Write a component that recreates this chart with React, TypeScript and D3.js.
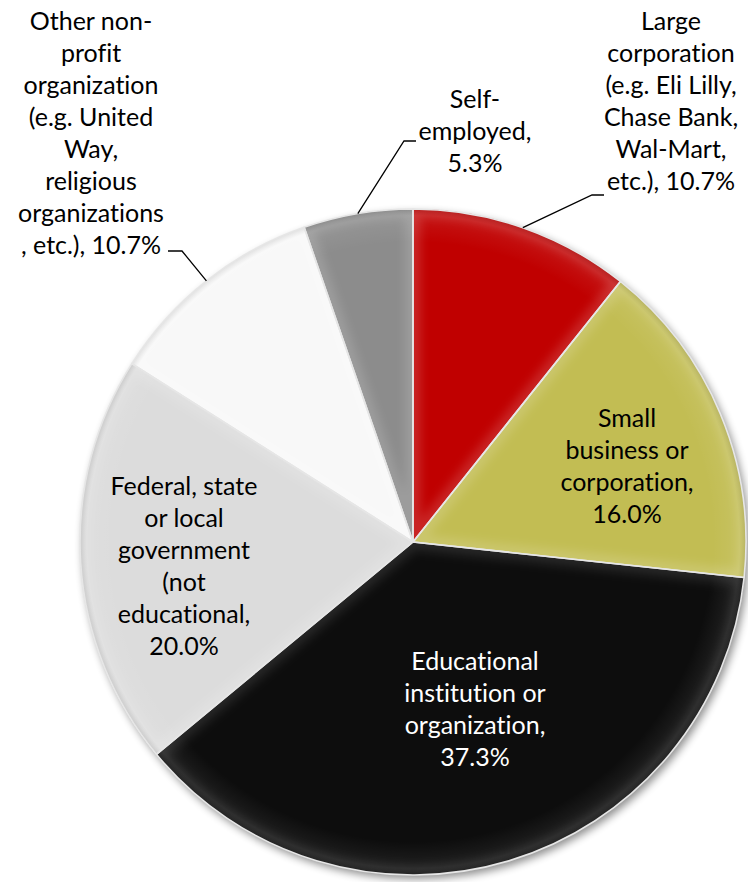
import React from "react";
import * as d3 from "d3";

const categories = [
  "Large corporation (e.g. Eli Lilly, Chase Bank, Wal-Mart, etc.)",
  "Small business or corporation",
  "Educational institution or organization",
  "Federal, state or local government (not educational",
  "Other non-profit organization (e.g. United Way, religious organizations, etc.)",
  "Self-employed",
];
const values = [10.7, 16.0, 37.3, 20.0, 10.7, 5.3];
const labelLines = [
  ["Large", "corporation", "(e.g. Eli Lilly,", "Chase Bank,", "Wal-Mart,", "etc.), 10.7%"],
  ["Small", "business or", "corporation,", "16.0%"],
  ["Educational", "institution or", "organization,", "37.3%"],
  ["Federal, state", "or local", "government", "(not", "educational,", "20.0%"],
  ["Other non-", "profit", "organization", "(e.g. United", "Way,", "religious", "organizations", ", etc.), 10.7%"],
  ["Self-", "employed,", "5.3%"],
];

const colors = ["#C00000", "#C2BD52", "#080808", "#DCDCDC", "#F8F8F8", "#8C8C8C"];
const textColors = ["#000", "#000", "#fff", "#000", "#000", "#000"];
// label layout: center x, first line y (x-height centre)
const labelPos = [
  { x: 671, y: 23 },
  { x: 627, y: 420 },
  { x: 475, y: 663 },
  { x: 184, y: 488 },
  { x: 91, y: 23 },
  { x: 475, y: 101 },
];
// leader elbows for outside labels: [elbow, end]
const leaders: Record<number, [number, number][]> = {
  0: [[592, 195], [604, 195]],
  4: [[182, 251], [168, 251]],
  5: [[404, 141], [416, 141]],
};

const W = 748, H = 882;
const cx = 413, cy = 542, R = 333;
const LINE = 32;

export default function App() {
  const pie = d3.pie<number>().sort(null).startAngle(0).endAngle(2 * Math.PI)(values);
  const arc = d3.arc<d3.PieArcDatum<number>>().innerRadius(0).outerRadius(R);
  return (
    <svg width={W} height={H} style={{ position: "absolute", left: 0, top: 0, background: "#fff" }}>
      <defs>
        <filter id="shadow" x="-20%" y="-20%" width="140%" height="140%">
          <feGaussianBlur in="SourceAlpha" stdDeviation="4" />
          <feOffset dx="3" dy="4" result="b" />
          <feComponentTransfer>
            <feFuncA type="linear" slope="0.45" />
          </feComponentTransfer>
          <feMerge>
            <feMergeNode />
            <feMergeNode in="SourceGraphic" />
          </feMerge>
        </filter>
        <filter id="soft" x="-10%" y="-10%" width="120%" height="120%">
          <feGaussianBlur stdDeviation="5" />
        </filter>
        <radialGradient id="rim" cx={cx} cy={cy} r={R} gradientUnits="userSpaceOnUse">
          <stop offset="0" stopColor="#fff" stopOpacity="0" />
          <stop offset="0.9" stopColor="#fff" stopOpacity="0" />
          <stop offset="0.98" stopColor="#fff" stopOpacity="0.08" />
          <stop offset="1" stopColor="#000" stopOpacity="0.1" />
        </radialGradient>
        {pie.map((d, i) => (
          <clipPath key={"c" + i} id={"clip" + i}>
            <path d={arc(d) || ""} transform={`translate(${cx},${cy})`} />
          </clipPath>
        ))}
      </defs>
      <g transform={`translate(${cx},${cy})`} filter="url(#shadow)">
        {pie.map((d, i) => (
          <path key={i} d={arc(d) || ""} fill={colors[i]} />
        ))}
      </g>
      {pie.map((d, i) => (
        <g key={"b" + i} clipPath={`url(#clip${i})`}>
          <path
            d={arc(d) || ""}
            transform={`translate(${cx},${cy})`}
            fill="none"
            stroke="#fff"
            strokeOpacity={i === 2 ? 0.1 : 0.14}
            strokeWidth={16}
            filter="url(#soft)"
          />
        </g>
      ))}
      <circle cx={cx} cy={cy} r={R} fill="url(#rim)" />
      <g transform={`translate(${cx},${cy})`}>
        {pie.map((d, i) => (
          <path key={"s" + i} d={arc(d) || ""} fill="none" stroke="#e6e6e6" strokeWidth={1.6} strokeLinejoin="round" />
        ))}
      </g>
      {pie.map((d, i) => {
        const pts = leaders[i];
        if (!pts) return null;
        const a = (d.startAngle + d.endAngle) / 2;
        const sx = cx + R * Math.sin(a);
        const sy = cy - R * Math.cos(a);
        const p = d3.line()([[sx, sy], ...pts]);
        return <path key={"l" + i} d={p || ""} fill="none" stroke="#000" strokeWidth={1.3} />;
      })}
      {labelLines.map((lines, i) => (
        <text
          key={"t" + i}
          fontFamily="Lato, 'Open Sans', sans-serif"
          fontSize={25}
          fill={textColors[i]}
          textAnchor="middle"
          style={{ fontVariantLigatures: "none" }}
        >
          {lines.map((ln, j) => (
            <tspan key={j} x={labelPos[i].x} y={labelPos[i].y + j * LINE + 7}>
              {ln}
            </tspan>
          ))}
        </text>
      ))}
    </svg>
  );
}
